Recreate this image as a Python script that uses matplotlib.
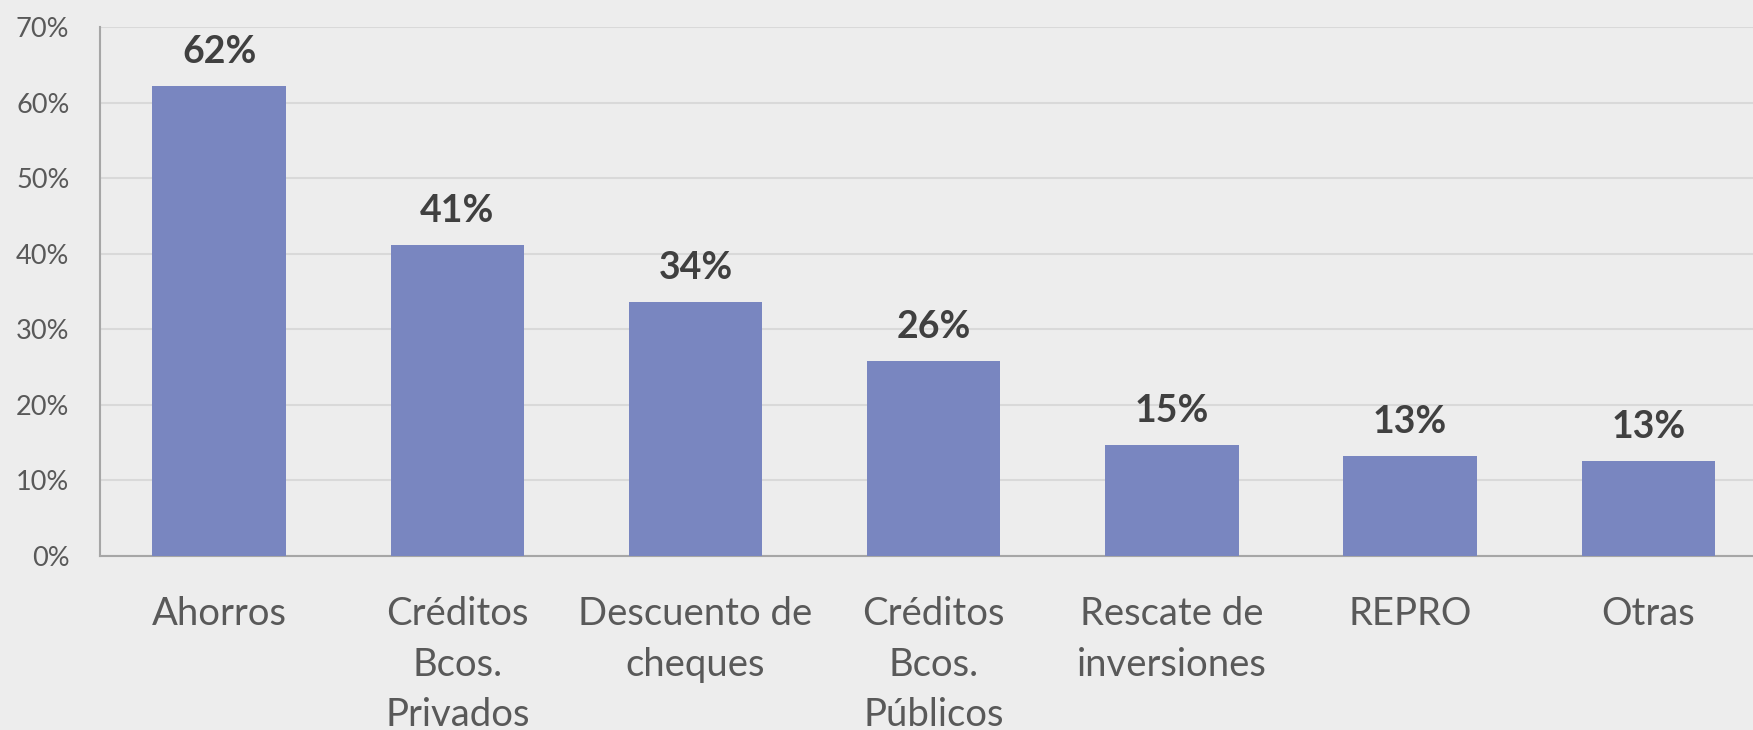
import numpy as np
import matplotlib.pyplot as plt
from matplotlib.ticker import FuncFormatter

categories = ["Ahorros", "Créditos\nBcos.\nPrivados", "Descuento de\ncheques",
              "Créditos\nBcos.\nPúblicos", "Rescate de\ninversiones", "REPRO", "Otras"]
values = [62.2, 41.2, 33.6, 25.8, 14.7, 13.2, 12.6]
labels = ["62%", "41%", "34%", "26%", "15%", "13%", "13%"]

plt.rcParams['font.family'] = ['Lato', 'DejaVu Sans']

fig = plt.figure(figsize=(17.53, 7.30), dpi=100)
fig.patch.set_facecolor('#EDEDED')
# axes runs a bit past the right edge, like the cropped original
ax = fig.add_axes([100 / 1753, 174 / 730, 1667.5 / 1753, 529 / 730])
ax.set_facecolor('#EDEDED')

x = np.arange(len(categories))
ax.bar(x, values, width=0.56, color='#7986C0', zorder=3)

for xi, v, lab in zip(x, values, labels):
    ax.annotate(lab, (xi, v), xytext=(0, 16.5), textcoords='offset points',
                ha='center', va='baseline', fontsize=27, fontweight='bold',
                color='#404040')

ax.set_xlim(-0.5, len(categories) - 0.5)
ax.set_ylim(0, 70)
ax.set_yticks(np.arange(0, 71, 10))
ax.yaxis.set_major_formatter(FuncFormatter(lambda v, p: "%d%%" % v))
ax.set_xticks(x)
ax.set_xticklabels(categories, fontsize=27.5, color='#595959', linespacing=1.5, va='top')
ax.tick_params(axis='x', length=0, pad=29)
ax.tick_params(axis='y', length=0, pad=22, labelsize=19.5, labelcolor='#595959')

ax.grid(axis='y', color='#D9D9D9', linewidth=1.5, zorder=0)
for s in ['top', 'right']:
    ax.spines[s].set_visible(False)
for s in ['left', 'bottom']:
    ax.spines[s].set_color('#A6A6A6')
    ax.spines[s].set_linewidth(1.5)

plt.savefig("out.png", dpi=100, facecolor=fig.get_facecolor())
